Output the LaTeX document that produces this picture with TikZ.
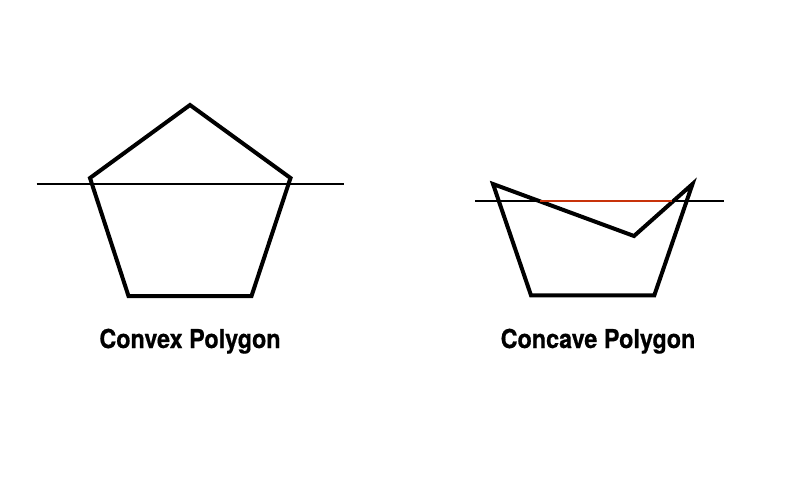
\documentclass[tikz,border=0pt]{standalone}
\usepackage{fontspec}
\newfontfamily\labelfont[FakeStretch=0.9,FakeBold=0.6]{TeX Gyre Heros}
\definecolor{cutred}{RGB}{200,50,10}
\begin{document}
\begin{tikzpicture}[x=1pt,y=-1pt,
  poly/.style={line width=4pt,line join=miter,black},
  cutline/.style={line width=1.8pt,black},
  caption/.style={font=\labelfont\bfseries\fontsize{26}{30}\selectfont,inner sep=0pt,anchor=base}]
\useasboundingbox (0,0) rectangle (800,480);
% convex
\coordinate (ct) at (190,105);
\coordinate (cl) at (90,178);
\coordinate (cr) at (290.5,178);
\coordinate (cbr) at (251.5,296);
\coordinate (cbl) at (128.5,296);
\coordinate (cla) at (36.5,184.3);
\coordinate (clb) at (343.5,184.3);
\draw[poly] (ct) -- (cr) -- (cbr) -- (cbl) -- (cl) -- cycle;
\draw[cutline] (cla) -- (clb);
% concave
\coordinate (kl) at (493,184);
\coordinate (ki) at (634,236);
\coordinate (kr) at (692.5,184);
\coordinate (kbr) at (654.3,295.3);
\coordinate (kbl) at (531,295.3);
\coordinate (kla) at (475,201.3);
\coordinate (klb) at (724,201.3);
\coordinate (ra) at (540,201.3);
\coordinate (rb) at (671.5,201.3);
\draw[poly] (kl) -- (ki) -- (kr) -- (kbr) -- (kbl) -- cycle;
\draw[cutline] (kla) -- (klb);
\draw[line width=1.8pt,cutred] (ra) -- (rb);
\node[caption] (t1) at (190,348) {Convex Polygon};
\node[caption] (t2) at (598,348) {Concave Polygon};
\end{tikzpicture}
\end{document}
